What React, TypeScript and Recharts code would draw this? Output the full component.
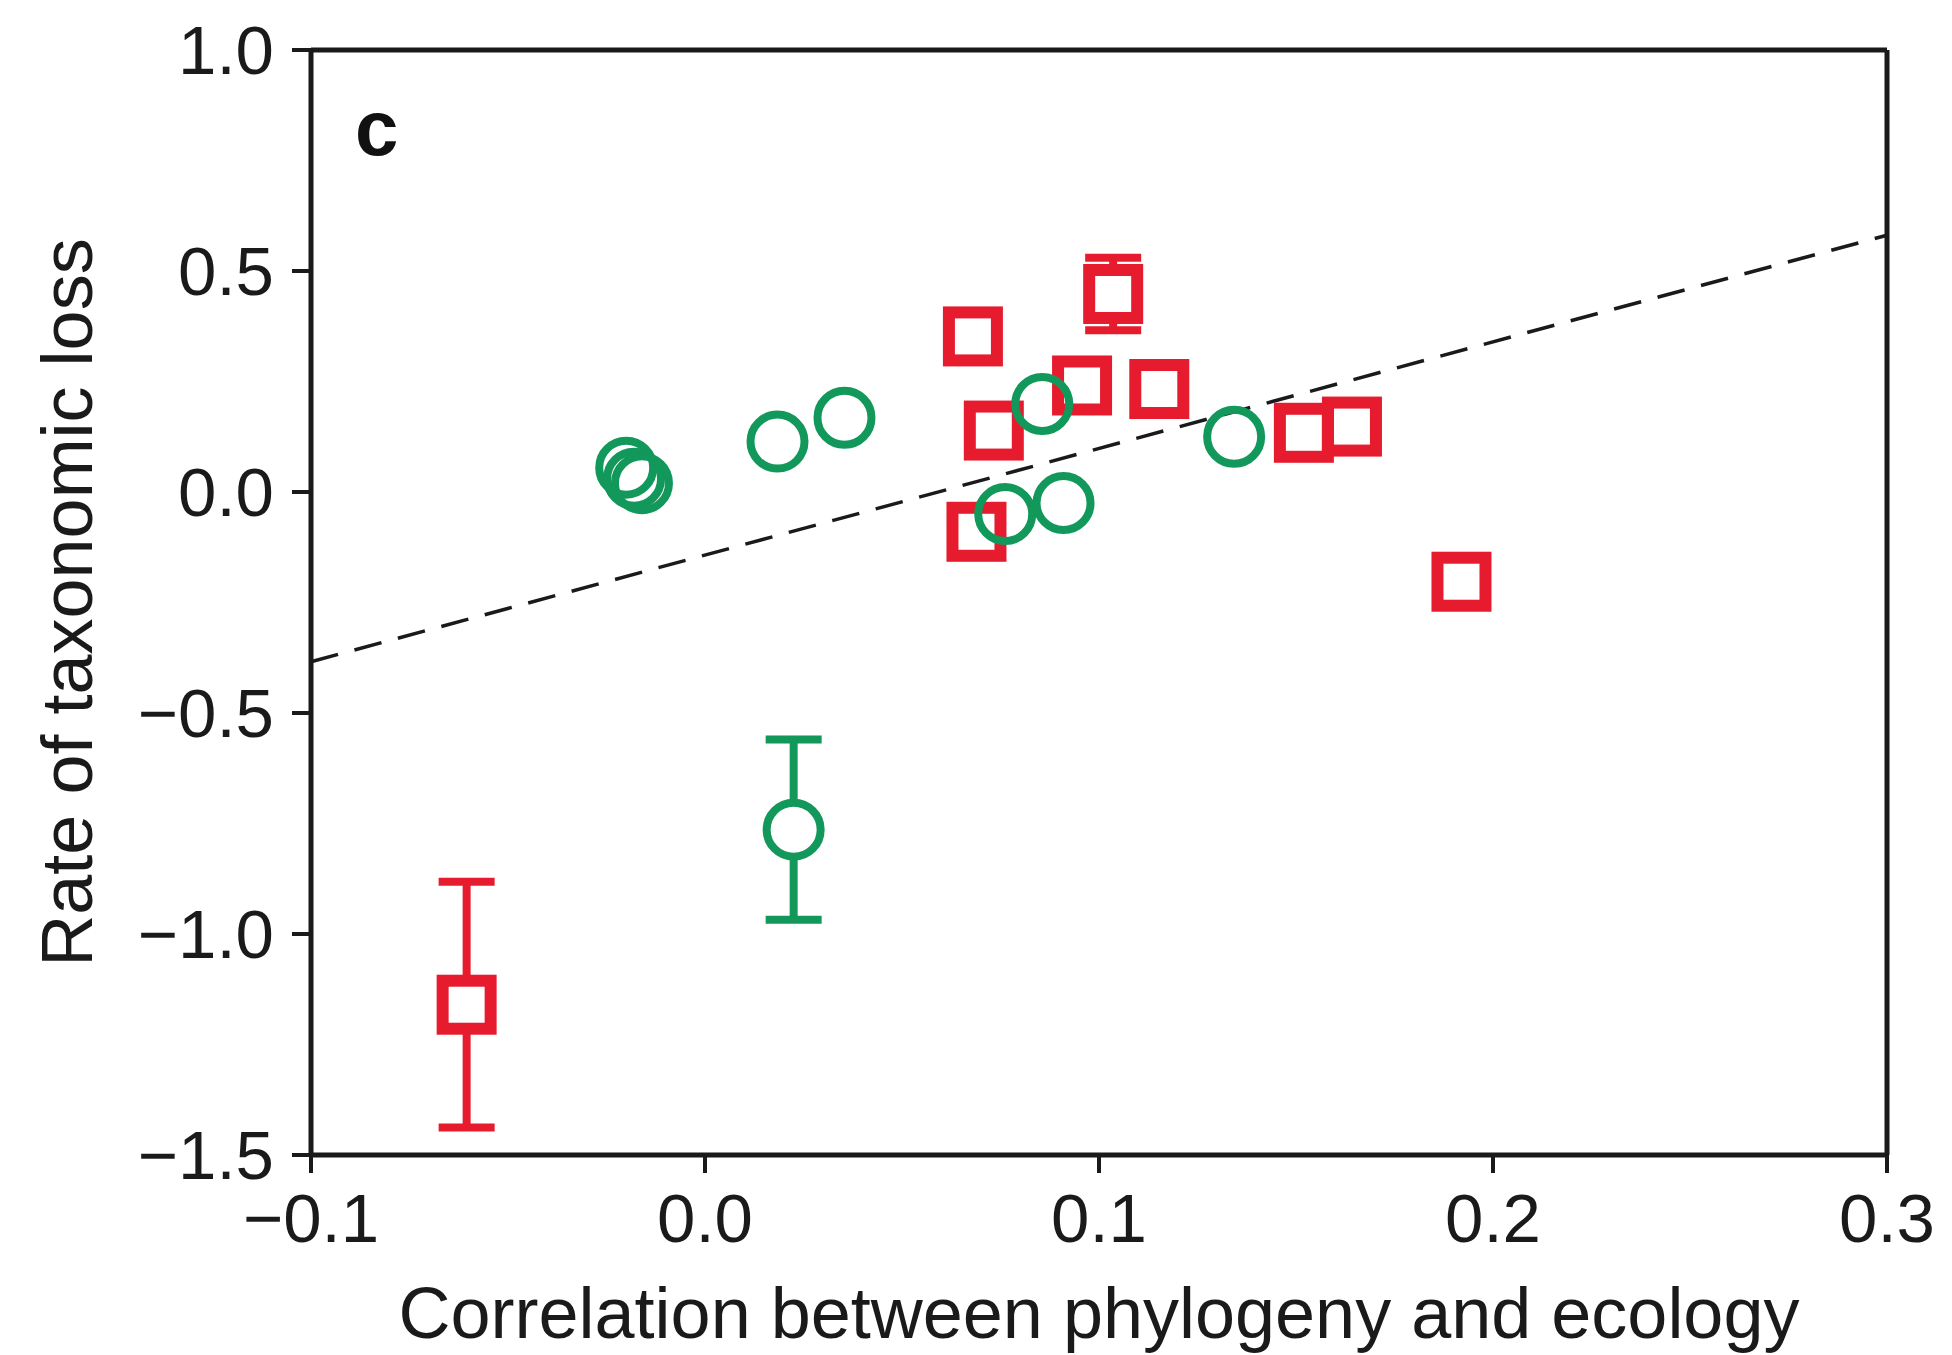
import React from 'react';
import { ScatterChart, Scatter, XAxis, YAxis, ErrorBar, ReferenceLine } from 'recharts';

const xTicks = [-0.1, 0, 0.1, 0.2, 0.3];
const yTicks = [-1.5, -1.0, -0.5, 0, 0.5, 1.0];

const redX = [0.068, 0.0957, 0.1153, 0.0733, 0.0689, 0.152, 0.1642, 0.192];
const redY = [0.352, 0.241, 0.233, 0.139, -0.09, 0.134, 0.148, -0.203];
const redErrX = [-0.0605, 0.1036];
const redErrY = [-1.16, 0.448];
const redErrSize = [0.278, 0.082];

const greenX = [-0.02, -0.018, -0.016, 0.0184, 0.0354, 0.0856, 0.0762, 0.091, 0.1343];
const greenY = [0.055, 0.03, 0.02, 0.114, 0.168, 0.199, -0.05, -0.025, 0.125];
const greenErrX = [0.0225];
const greenErrY = [-0.764];
const greenErrSize = [0.204];

const trendX = [-0.1, 0.3];
const trendY = [-0.384, 0.581];

const RED = '#e61c2e';
const GREEN = '#12985a';
const INK = '#1a1a1a';
const FONT = '"Liberation Sans", Arial, Helvetica, sans-serif';

const redPts = redX.map((x, i) => ({ x, y: redY[i] }));
const redErrPts = redErrX.map((x, i) => ({ x, y: redErrY[i], err: redErrSize[i] }));
const greenPts = greenX.map((x, i) => ({ x, y: greenY[i] }));
const greenErrPts = greenErrX.map((x, i) => ({ x, y: greenErrY[i], err: greenErrSize[i] }));

const fmt = (v: number) => (v < 0 ? '\u2212' : '') + Math.abs(v).toFixed(1);

const makeSquare = (fill: string) => (props: any) => {
  const { cx, cy } = props;
  if (cx == null || cy == null) return <g />;
  return <rect x={cx - 24} y={cy - 24} width={48} height={48} fill={fill} stroke={RED} strokeWidth={12} />;
};
const makeCircle = (fill: string) => (props: any) => {
  const { cx, cy } = props;
  if (cx == null || cy == null) return <g />;
  return <circle cx={cx} cy={cy} r={27} fill={fill} stroke={GREEN} strokeWidth={8} />;
};

export default function App() {
  return (
    <div style={{ position: 'absolute', left: 0, top: 0, background: '#fff' }}>
      <ScatterChart width={1952} height={1355} margin={{ top: 50, right: 65, bottom: 0, left: 0 }}>
        <XAxis
          type="number"
          dataKey="x"
          domain={[-0.1, 0.3]}
          ticks={xTicks}
          tickFormatter={fmt}
          height={200}
          stroke={INK}
          strokeWidth={5}
          tickSize={18}
          tickMargin={20}
          tick={{ fontSize: 69, fill: INK, fontFamily: FONT }}
          tickLine={{ stroke: INK, strokeWidth: 4 }}
          allowDataOverflow
          label={{
            value: 'Correlation between phylogeny and ecology',
            position: 'insideBottom',
            offset: 17,
            fontSize: 72,
            fill: INK,
            fontFamily: FONT,
          }}
        />
        <YAxis
          type="number"
          dataKey="y"
          domain={[-1.5, 1.0]}
          ticks={yTicks}
          tickFormatter={fmt}
          width={311}
          stroke={INK}
          strokeWidth={5}
          tickSize={19}
          tickMargin={18}
          tick={{ fontSize: 69, fill: INK, fontFamily: FONT }}
          tickLine={{ stroke: INK, strokeWidth: 4 }}
          allowDataOverflow
          label={{
            value: 'Rate of taxonomic loss',
            angle: -90,
            position: 'insideLeft',
            offset: 66,
            fontSize: 72,
            fill: INK,
            fontFamily: FONT,
            style: { textAnchor: 'middle' },
          }}
        />
        <ReferenceLine y={1.0} stroke={INK} strokeWidth={5} />
        <ReferenceLine x={0.3} stroke={INK} strokeWidth={5} />
        <ReferenceLine
          segment={[
            { x: trendX[0], y: trendY[0] },
            { x: trendX[1], y: trendY[1] },
          ]}
          stroke={INK}
          strokeWidth={3.5}
          strokeDasharray="28 17"
        />
        <Scatter data={redErrPts} shape={makeSquare('#ffffff')} isAnimationActive={false}>
          <ErrorBar dataKey="err" direction="y" width={28} stroke={RED} strokeWidth={8} isAnimationActive={false} />
        </Scatter>
        <Scatter data={redPts} shape={makeSquare('none')} isAnimationActive={false} />
        <Scatter data={greenErrPts} shape={makeCircle('#ffffff')} isAnimationActive={false}>
          <ErrorBar dataKey="err" direction="y" width={28} stroke={GREEN} strokeWidth={8} isAnimationActive={false} />
        </Scatter>
        <Scatter data={greenPts} shape={makeCircle('none')} isAnimationActive={false} />
        <text x={355} y={155} fontSize={78} fontWeight={900} fontFamily={FONT} fill="#111">
          c
        </text>
      </ScatterChart>
    </div>
  );
}
